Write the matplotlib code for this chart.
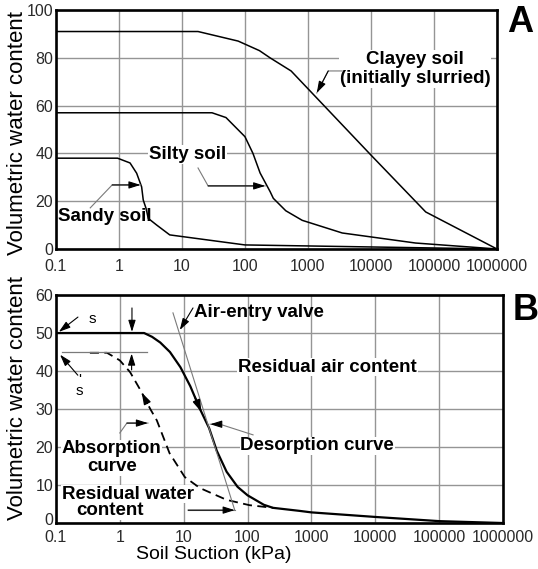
import numpy as np
import matplotlib
matplotlib.use('Agg')
import matplotlib.pyplot as plt
from matplotlib.transforms import ScaledTranslation

plt.rcParams['font.family'] = ['Liberation Sans', 'DejaVu Sans']

# panel A: soil-water characteristic curves for three soils
clay_x = [0.1, 18, 78, 170, 250, 540, 10000, 74000, 1000000]
clay_y = [91, 91, 87, 83, 80, 74.5, 39.3, 15.5, 0]
silt_x = [0.1, 30, 50, 100, 134, 174, 251, 282, 445, 810, 3500, 51000, 1000000]
silt_y = [57, 57, 55, 47, 40, 31.8, 24, 21.2, 16, 12, 6.7, 2.5, 0]
sand_x = [0.1, 0.95, 1.5, 1.91, 2.29, 2.43, 2.69, 2.92, 3.98, 6.4, 100, 1000000]
sand_y = [38, 38, 36, 31.7, 26, 20.5, 17, 12.8, 10, 5.9, 1.7, 0]

# panel B: desorption / absorption curves
des_x = [0.1, 2.4, 3.2, 4.3, 6.1, 8.9, 12.7, 18, 25, 33, 47, 70, 100, 180, 250,
         650, 1000, 10000, 100000, 1000000]
des_y = [50, 50, 49, 47.5, 45, 41, 36, 30, 25, 19, 13.5, 9.5, 7.3, 4.8, 4.0,
         3.2, 2.8, 1.6, 0.5, 0]
abs_x = [0.34, 0.63, 1.0, 1.45, 2.1, 3.0, 3.8, 6, 10.4, 18, 47, 107, 250]
abs_y = [44.8, 44.8, 42.8, 39.7, 35, 30, 27, 18.4, 12.1, 9.2, 6.1, 4.7, 4.0]

xticks = [0.1, 1, 10, 100, 1000, 10000, 100000, 1000000]
xtick_labels = ['0.1', '1', '10', '100', '1000', '10000', '100000', '1000000']
yticks_a = [0, 20, 40, 60, 80, 100]
yticks_b = [0, 10, 20, 30, 40, 50, 60]

GRAY = '#7a7a7a'
TXT = dict(fontsize=13.5, fontweight='bold', color='black')
WHITE = dict(facecolor='white', edgecolor='none', pad=0.5)


def setup(ax, yticks, ymax, xpad):
    ax.set_xscale('log')
    ax.set_xlim(0.1, 1000000)
    ax.set_ylim(0, ymax)
    ax.set_xticks(xticks)
    ax.set_xticklabels(xtick_labels)
    ax.minorticks_off()
    ax.set_yticks(yticks)
    ax.grid(True, color='#959595', lw=1.0)
    ax.set_axisbelow(True)
    ax.tick_params(length=0, labelsize=11.5, labelcolor='#2a2a2a')
    ax.tick_params(axis='x', pad=xpad)
    ax.tick_params(axis='y', pad=2)
    for s in ax.spines.values():
        s.set_linewidth(1.9)
        s.set_color('black')
        s.set_zorder(5)


def leader(ax, xs, ys):
    # gray leader line ending in a small black arrow head
    ax.plot(xs, ys, color=GRAY, lw=0.8, zorder=3)
    ax.annotate('', xy=(xs[-1], ys[-1]), xytext=(xs[-2], ys[-2]),
                arrowprops=dict(arrowstyle='-|>,head_length=0.7,head_width=0.22',
                                color='black', lw=0.8, shrinkA=0, shrinkB=0),
                zorder=4)


def arrow(ax, tip, tail, lw=0.8):
    ax.annotate('', xy=tip, xytext=tail,
                arrowprops=dict(arrowstyle='-|>,head_length=0.7,head_width=0.22',
                                color='black', lw=lw, shrinkA=0, shrinkB=0),
                zorder=4)


fig = plt.figure(figsize=(5.38, 5.69), dpi=100)
axA = fig.add_axes([0.104, 0.5624, 0.8197, 0.42])
axB = fig.add_axes([0.104, 0.0808, 0.8309, 0.4007])

# ---- panel A
setup(axA, yticks_a, 100, 7)
axA.plot(clay_x, clay_y, color='black', lw=1.1, zorder=3)
axA.plot(silt_x, silt_y, color='black', lw=1.1, zorder=3)
axA.plot(sand_x, sand_y, color='black', lw=1.1, zorder=3)

axA.text(50000, 75.3, 'Clayey soil\n(initially slurried)', ha='center', va='center',
         linespacing=1.15, bbox=WHITE, zorder=2, **TXT)
leader(axA, [3500, 2100, 1380], [74.5, 74.5, 65.3])
axA.text(12.4, 39.6, 'Silty soil', ha='center', va='center', bbox=WHITE, zorder=2, **TXT)
leader(axA, [18, 26, 210], [33.9, 26.4, 26.4])
axA.text(0.6, 13.4, 'Sandy soil', ha='center', va='center', zorder=4, **TXT)
leader(axA, [0.35, 0.78, 2.2], [17.2, 26.8, 26.8])

axA.set_ylabel('Volumetric water content', fontsize=16)
axA.yaxis.set_label_coords(-0.063, 0.485)

# ---- panel B
setup(axB, yticks_b, 60, 5)
# lift the "0" label a little so it clears the "0.1" below it
lab0 = axB.get_yticklabels()[0]
lab0.set_transform(lab0.get_transform() + ScaledTranslation(0, 3 / 72, fig.dpi_scale_trans))
axB.plot(des_x, des_y, color='black', lw=1.6, zorder=3)
axB.plot(abs_x, abs_y, color='black', lw=1.3, ls=(0, (5, 3)), zorder=3)

# residual air content level and tangent to the desorption curve
axB.plot([0.124, 2.66], [45, 45], color=GRAY, lw=0.9, zorder=3)
axB.plot([6.8, 63], [55.3, 3.4], color=GRAY, lw=0.8, zorder=3)

axB.text(0.366, 53.7, 's', ha='center', va='center', fontsize=11)
arrow(axB, (0.111, 50.3), (0.221, 54.2))
axB.text(0.232, 36.2, "'\ns", ha='center', va='center', fontsize=11, linespacing=0.8)
arrow(axB, (0.116, 44.3), (0.22, 38.9))

arrow(axB, (1.55, 50.3), (1.55, 56.6))
arrow(axB, (1.53, 44.6), (1.53, 40.3))

axB.text(151, 55.3, 'Air-entry valve', ha='center', va='center', zorder=2, **TXT)
arrow(axB, (8.7, 50.8), (14, 56.6))

axB.text(1780, 41, 'Residual air content', ha='center', va='center',
         bbox=WHITE, zorder=2, **TXT)

axB.text(1230, 20.3, 'Desorption curve', ha='center', va='center',
         bbox=WHITE, zorder=2, **TXT)
leader(axB, [122, 37, 26], [23.2, 26, 26])

# direction arrows on the curves
p0 = (15, np.interp(np.log10(15), np.log10(des_x), des_y))
p1 = (19, np.interp(np.log10(19), np.log10(des_x), des_y))
arrow(axB, p1, p0, lw=1.2)
q0 = (2.7, np.interp(np.log10(2.7), np.log10(abs_x), abs_y))
q1 = (2.2, np.interp(np.log10(2.2), np.log10(abs_x), abs_y))
arrow(axB, q1, q0, lw=1.0)

axB.text(0.75, 17.2, 'Absorption\ncurve', ha='center', va='center', linespacing=1.05,
         bbox=WHITE, zorder=2, **TXT)
leader(axB, [1.0, 1.29, 2.76], [23.7, 26.3, 26.3])

axB.text(1.34, 7.6, 'Residual water', ha='center', va='center', bbox=WHITE, zorder=2, **TXT)
axB.text(0.70, 3.2, 'content', ha='center', va='center', bbox=WHITE, zorder=2, **TXT)
leader(axB, [11.7, 63], [3.4, 3.4])

axB.set_ylabel('Volumetric water content', fontsize=16)
axB.yaxis.set_label_coords(-0.062, 0.548)
axB.set_xlabel('Soil Suction (kPa)', fontsize=14)
axB.xaxis.set_label_coords(0.353, -0.10)

fig.text(0.942, 0.961, 'A', fontsize=26, fontweight='bold', va='center', ha='left')
fig.text(0.953, 0.455, 'B', fontsize=26, fontweight='bold', va='center', ha='left')

fig.savefig('out.png', dpi=100)
